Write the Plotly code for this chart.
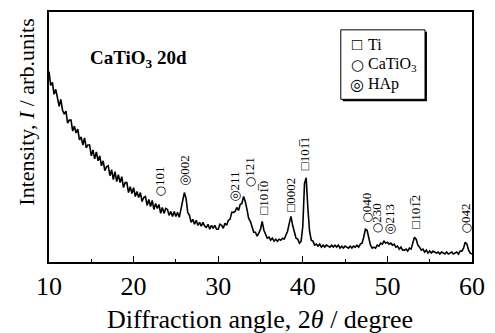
import numpy as np
import plotly.graph_objects as go

# ---------------- data ----------------
angle_start, angle_step = 10.0, 0.2
intensity = [
    192, 178, 181, 169, 174, 167, 157, 164, 153, 149,
    152, 140, 143, 143, 132, 137, 130, 134, 123, 126,
    118, 125, 115, 118, 118, 107, 113, 104, 111, 102,
    107, 97, 102, 92, 96, 97, 87, 93, 83, 91,
    81, 88, 80, 86, 75, 80, 80, 70, 76, 69,
    75, 66, 71, 65, 70, 61, 65, 66, 57, 63,
    56, 62, 53, 59, 54, 58, 49, 55, 49, 54,
    53, 47, 51, 46, 51, 46, 50, 45, 53, 61,
    70, 64, 50, 47, 40, 43, 38, 42, 37, 40,
    36, 40, 36, 35, 38, 33, 37, 34, 37, 33,
    33, 38, 37, 34, 39, 37, 42, 43, 50, 50,
    51, 55, 52, 58, 59, 66, 61, 53, 44, 41,
    35, 30, 30, 26, 29, 33, 41, 32, 28, 24,
    25, 22, 24, 21, 23, 21, 23, 22, 24, 23,
    27, 31, 39, 46, 37, 31, 24, 23, 19, 21,
    36, 79, 85, 54, 31, 22, 21, 17, 18, 16,
    18, 15, 17, 15, 17, 16, 15, 17, 15, 17,
    15, 17, 14, 16, 14, 16, 15, 14, 16, 14,
    16, 15, 17, 15, 18, 19, 25, 33, 32, 23,
    17, 14, 15, 14, 17, 16, 19, 18, 21, 19,
    20, 18, 19, 17, 18, 15, 16, 13, 15, 12,
    12, 13, 11, 14, 13, 19, 25, 23, 17, 15,
    12, 13, 10, 12, 9, 11, 9, 11, 10, 9,
    10, 8, 10, 9, 8, 10, 8, 9, 10, 8,
    9, 10, 8, 11, 11, 14, 20, 18, 12, 9,
    8,
]
two_theta = np.round(angle_start + angle_step * np.arange(len(intensity)), 1)

SQ, CI, DC = "\u25a1", "\u25cb", "\u25ce"   # Ti, CaTiO3, HAp symbols
OV = "\u0305"  # combining overline
peak_angles = [23.1, 26.0, 31.9, 33.7, 35.3, 38.5, 40.3, 47.5, 48.75, 50.25, 53.3, 59.2]
peak_phase = [CI, DC, DC, CI, SQ, SQ, SQ, CI, CI, DC, SQ, CI]
peak_hkl = ["101", "002", "211", "121", "101" + OV + "0", "0002", "101" + OV + "1",
            "040", "230", "213", "101" + OV + "2", "042"]
legend_symbols = [SQ, CI, DC]
legend_names = ["Ti", "CaTiO<sub>3</sub>", "HAp"]
x_ticks = [10, 20, 30, 40, 50, 60]

# ---------------- layout helpers ----------------
label_heights = [81, 92, 76, 90, 65, 68, 109, 55, 44, 43, 51, 44]  # vertical centre of each label

W, H = 495, 333
L, R, T, B = 49, 14, 10, 71
PW, PH = W - L - R, H - T - B
def px(xp): return (xp - L) / PW
def py(yp): return (H - B - yp) / PH

SERIF = "Liberation Serif, Times New Roman, DejaVu Serif, serif"
SYM = "DejaVu Sans"

def sym_font(s):
    return SERIF if s == SQ else SYM

def sym_span(s):
    fam = "Liberation Serif" if s == SQ else SYM
    sz = {SQ: 13, CI: 12, DC: 13}[s]
    return f"<span style='font-family:{fam};font-size:{sz}px'>{s}</span>"

fig = go.Figure()
fig.add_trace(go.Scatter(x=two_theta, y=intensity, mode="lines",
                         line=dict(color="black", width=1.6), showlegend=False,
                         hoverinfo="skip"))

annotations = []
for a, ph, hkl, h in zip(peak_angles, peak_phase, peak_hkl, label_heights):
    annotations.append(dict(x=a, y=h, xref="x", yref="y", text=sym_span(ph) + hkl,
                            showarrow=False, textangle=-90, xanchor="center", yanchor="middle",
                            font=dict(family=SERIF, size=13, color="black")))

# sample title
annotations.append(dict(x=px(89), y=py(57), xref="paper", yref="paper",
                        text="<b>CaTiO<sub>3</sub> 20d</b>", showarrow=False,
                        xanchor="left", yanchor="middle",
                        font=dict(family=SERIF, size=19, color="black")))
# axis titles
annotations.append(dict(x=px(264.5), y=py(320), xref="paper", yref="paper",
                        text="Diffraction angle, 2<i>\u03b8</i> / degree", showarrow=False,
                        xanchor="center", yanchor="middle",
                        font=dict(family=SERIF, size=26, color="black")))
annotations.append(dict(x=px(26), y=py(111), xref="paper", yref="paper",
                        text="Intensity, <i>I</i> / arb.units", showarrow=False,
                        textangle=-90, xanchor="center", yanchor="middle",
                        font=dict(family=SERIF, size=22, color="black")))

# legend box
shapes = [
    dict(type="rect", xref="paper", yref="paper", x0=px(349), x1=px(435), y0=py(100), y1=py(30),
         fillcolor="black", line=dict(width=0), layer="above"),
    dict(type="rect", xref="paper", yref="paper", x0=px(347), x1=px(433), y0=py(98), y1=py(28),
         fillcolor="white", line=dict(color="black", width=1), layer="above"),
]
legend_sym_sizes = {SQ: 17, CI: 15, DC: 16}
for i, (sym, name) in enumerate(zip(legend_symbols, legend_names)):
    yy = py(43 + 20 * i)
    annotations.append(dict(x=px(364), y=yy, xref="paper", yref="paper", text=sym,
                            showarrow=False, xanchor="center", yanchor="middle",
                            font=dict(family=sym_font(sym), size=legend_sym_sizes[sym],
                                      color="black")))
    annotations.append(dict(x=px(373), y=yy, xref="paper", yref="paper", text=name,
                            showarrow=False, xanchor="left", yanchor="middle",
                            font=dict(family=SERIF, size=16, color="black")))

fig.update_layout(
    width=W, height=H, margin=dict(l=L, r=R, t=T, b=B, pad=0),
    paper_bgcolor="white", plot_bgcolor="white",
    showlegend=False, annotations=annotations, shapes=shapes,
    xaxis=dict(range=[10, 60], tickvals=x_ticks, ticks="inside", ticklen=6, tickwidth=1.2,
               tickcolor="black", showline=True, linecolor="black", linewidth=1.5,
               mirror=True, showgrid=False, zeroline=False,
               minor=dict(dtick=5, ticks="inside", ticklen=3, tickcolor="black", tickwidth=1.2),
               tickfont=dict(family=SERIF, size=26, color="black"), ticklabelstandoff=0),
    yaxis=dict(range=[0, 252], showticklabels=False, ticks="", showline=True,
               linecolor="black", linewidth=1.5, mirror=True, showgrid=False, zeroline=False),
)

fig.write_html("out.html")
